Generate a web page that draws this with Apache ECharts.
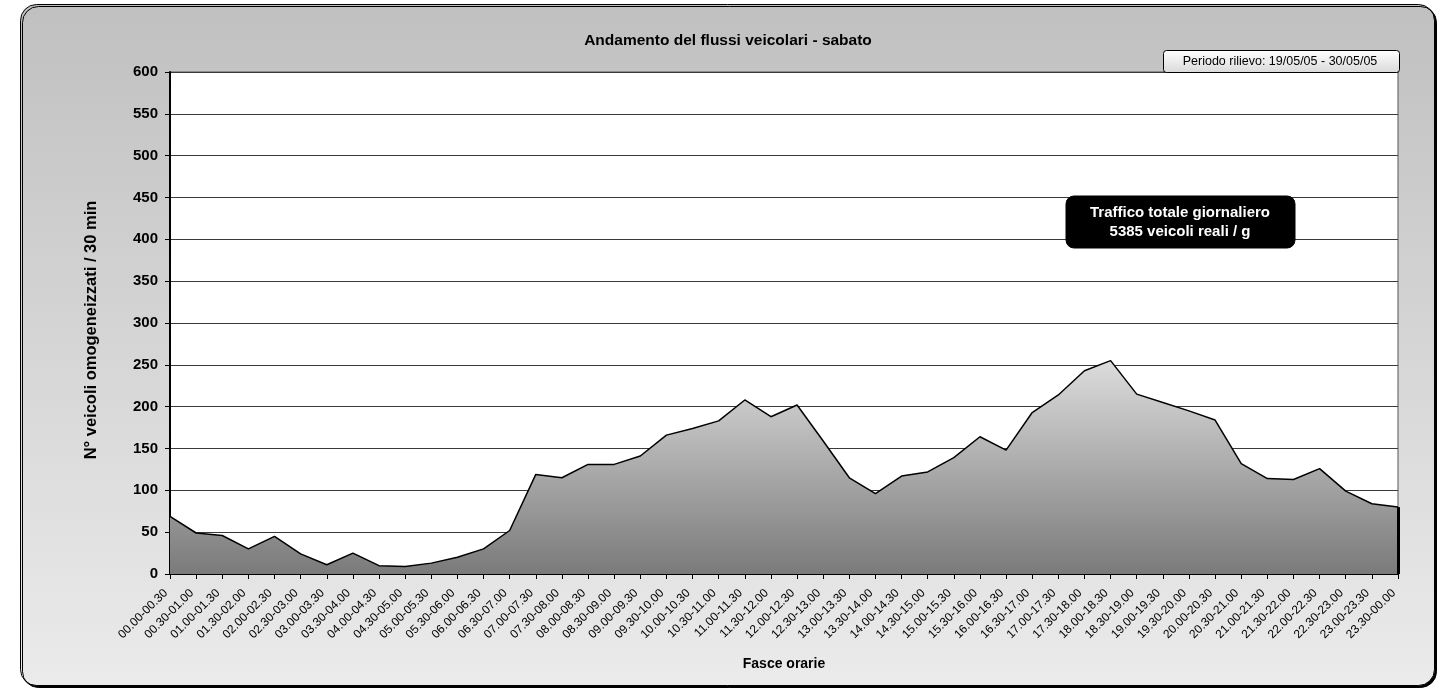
<!DOCTYPE html>
<html>
<head>
<meta charset="utf-8">
<script src="https://cdn.jsdelivr.net/npm/echarts@6/dist/echarts.min.js"></script>
<style>
html,body{margin:0;padding:0;background:#ffffff;}
#chart{width:1441px;height:691px;}
</style>
</head>
<body>
<div id="chart"></div>
<script>
const categories = ["00.00-00.30","00.30-01.00","01.00-01.30","01.30-02.00","02.00-02.30","02.30-03.00","03.00-03.30","03.30-04.00","04.00-04.30","04.30-05.00","05.00-05.30","05.30-06.00","06.00-06.30","06.30-07.00","07.00-07.30","07.30-08.00","08.00-08.30","08.30-09.00","09.00-09.30","09.30-10.00","10.00-10.30","10.30-11.00","11.00-11.30","11.30-12.00","12.00-12.30","12.30-13.00","13.00-13.30","13.30-14.00","14.00-14.30","14.30-15.00","15.00-15.30","15.30-16.00","16.00-16.30","16.30-17.00","17.00-17.30","17.30-18.00","18.00-18.30","18.30-19.00","19.00-19.30","19.30-20.00","20.00-20.30","20.30-21.00","21.00-21.30","21.30-22.00","22.00-22.30","22.30-23.00","23.00-23.30","23.30-00.00"];
const flows = [69,49,46,30,45,24,11,25,10,9,13,20,30,52,119,115,131,131,141,166,174,183,208,188,202,159,115,96,117,122,139,164,148,193,214,243,255,215,205,195,184,132,114,113,126,99,84,80];
const yTicks = {min:0, max:600, interval:50};
const titleText = "Andamento del flussi veicolari - sabato";
const periodText = "Periodo rilievo: 19/05/05 - 30/05/05";
const totalLines = ["Traffico totale giornaliero", "5385 veicoli reali / g"];
const yName = "N° veicoli omogeneizzati / 30 min";
const xName = "Fasce orarie";

const FONT = "'Liberation Sans', Arial, sans-serif";
const chart = echarts.init(document.getElementById('chart'), null, {renderer:'canvas'});
const lastIdx = flows.length - 1;

chart.setOption({
  animation: false,
  backgroundColor: '#ffffff',
  graphic: [
    {
      type: 'rect', z: -10, silent: true,
      shape: {x: 20.5, y: 4.5, width: 1414, height: 681, r: 16},
      style: {
        fill: new echarts.graphic.LinearGradient(0,0,0,1,[{offset:0,color:'#c0c0c0'},{offset:1,color:'#ebebeb'}]),
        stroke: '#000', lineWidth: 1,
        shadowColor: '#000', shadowBlur: 0, shadowOffsetX: 2, shadowOffsetY: 2
      }
    },
    {
      type: 'text', silent: true,
      style: {x: 728, y: 41, text: titleText, fill:'#000', font: "bold 15.5px " + FONT, textAlign:'center', textVerticalAlign:'middle'}
    },
    {
      type: 'rect', silent: true, z: 10,
      shape: {x: 1163.5, y: 50.5, width: 236, height: 22, r: 3},
      style: {
        fill: new echarts.graphic.LinearGradient(0,0,0,1,[{offset:0,color:'#ffffff'},{offset:1,color:'#d9d9d9'}]),
        stroke:'#000', lineWidth: 1
      }
    },
    {
      type: 'text', silent: true, z: 11,
      style: {x: 1280, y: 62, text: periodText, fill:'#000', font: "12.5px " + FONT, textAlign:'center', textVerticalAlign:'middle'}
    },
    {
      type: 'rect', silent: true, z: 10,
      shape: {x: 1066, y: 196, width: 229, height: 52, r: 8},
      style: {fill:'#000', stroke:'#000'}
    },
    {
      type: 'text', silent: true, z: 11,
      style: {x: 1180, y: 213, text: totalLines[0], fill:'#fff', font: "bold 15px " + FONT, textAlign:'center', textVerticalAlign:'middle'}
    },
    {
      type: 'text', silent: true, z: 11,
      style: {x: 1180, y: 232, text: totalLines[1], fill:'#fff', font: "bold 15px " + FONT, textAlign:'center', textVerticalAlign:'middle'}
    }
  ],
  grid: {left: 170, right: 43, top: 72, bottom: 117, show: true, backgroundColor:'#ffffff', borderColor:'#555555', borderWidth: 1},
  xAxis: {
    type: 'category',
    data: categories,
    boundaryGap: false,
    name: xName,
    nameLocation: 'middle',
    nameGap: 83,
    nameTextStyle: {fontFamily: FONT, fontWeight:'bold', fontSize: 14, color:'#000'},
    axisLine: {show: true, lineStyle: {color:'#000', width: 2}},
    axisTick: {show: true, alignWithLabel: true, length: 5, lineStyle:{color:'#000', width:1}},
    axisLabel: {rotate: 45, interval: 0, fontFamily: FONT, fontSize: 12, color:'#000', margin: 13, padding: [0, 6, 0, 0]},
    splitLine: {show: false}
  },
  yAxis: {
    type: 'value',
    min: yTicks.min, max: yTicks.max, interval: yTicks.interval,
    name: yName,
    nameLocation: 'middle',
    nameGap: 70,
    nameRotate: 90,
    nameTextStyle: {fontFamily: FONT, fontWeight:'bold', fontSize: 16.5, color:'#000', padding: [0, 14, 0, 0]},
    axisLine: {show: true, lineStyle: {color:'#000', width: 2}},
    axisTick: {show: true, length: 5, lineStyle:{color:'#000', width:1}},
    axisLabel: {fontFamily: FONT, fontWeight:'bold', fontSize: 15, color:'#000', margin: 12},
    splitLine: {show: true, lineStyle: {color:'#3a3a3a', width: 1}}
  },
  series: [{
    type: 'line',
    data: flows,
    symbol: 'none',
    lineStyle: {color:'#000', width: 1.5},
    areaStyle: {
      opacity: 1,
      color: new echarts.graphic.LinearGradient(0,0,0,1,[{offset:0,color:'#dcdcdc'},{offset:1,color:'#7a7a7a'}])
    },
    markLine: {
      silent: true, symbol: ['none','none'], label:{show:false},
      lineStyle: {color:'#000', width: 3, type:'solid'},
      data: [[{coord:[lastIdx, 0]}, {coord:[lastIdx, flows[lastIdx]]}]]
    }
  }]
});
</script>
</body>
</html>
